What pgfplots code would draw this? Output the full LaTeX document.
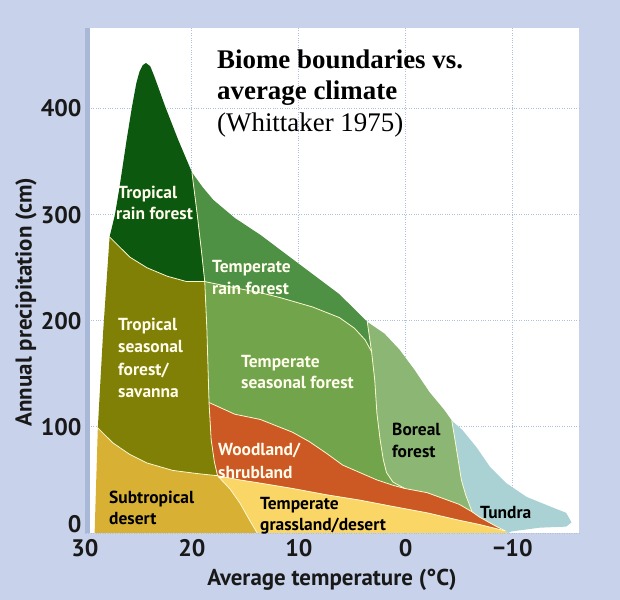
\documentclass[border=0pt]{standalone}
\usepackage{pgfplots}
\pgfplotsset{compat=1.18}
\usepackage{fontspec}
\setmainfont{Liberation Serif}
\setsansfont{PT Sans}
\definecolor{bg}{RGB}{200,210,234}
\definecolor{strip}{RGB}{168,184,214}
\definecolor{trf}{RGB}{12,88,14}
\definecolor{temprf}{RGB}{78,144,68}
\definecolor{sav}{RGB}{128,128,6}
\definecolor{tsf}{RGB}{114,164,76}
\definecolor{bor}{RGB}{140,182,116}
\definecolor{wood}{RGB}{204,88,36}
\definecolor{des}{RGB}{216,176,52}
\definecolor{grass}{RGB}{250,214,102}
\definecolor{tun}{RGB}{170,210,212}
\definecolor{bnd}{RGB}{250,248,205}
\definecolor{gridc}{RGB}{175,192,222}
\definecolor{lbl}{RGB}{255,252,235}
\definecolor{tk}{RGB}{25,25,25}
\begin{document}
\begin{tikzpicture}
\fill[bg] (0,0) rectangle (620bp,600bp);
\begin{axis}[
  at={(85bp,67bp)}, anchor=south west, scale only axis,
  width=494bp, height=505bp,
  x dir=reverse, xmin=-16.2, xmax=30, ymin=0, ymax=476,
  axis background/.style={fill=white},
  axis line style={draw=none},
  major tick length=0pt,
  xtick={30,20,10,0,-10}, xticklabels={30,20,10,0,−10},
  xticklabel style={yshift=-3bp},
  ytick={100,200,300,400},
  extra y ticks={0},
  extra y tick style={yticklabel style={yshift=9bp}},
  grid=major, major grid style={gridc, dotted, line width=0.9bp},
  tick label style={font=\fontsize{24}{24}\selectfont\sffamily\bfseries, text=tk},
  /pgf/number format/assume math mode=true,
]
% Subtropical desert
\addplot[fill=des, draw=none] coordinates {
 (29.1,0) (28.8,99) (27.4,85) (25.8,74) (24.2,66) (21.8,59) (19.5,56) (17.6,54)
 (16.4,41) (15.5,28) (14.6,12) (13.9,0)} --cycle;
% Tropical seasonal forest / savanna
\addplot[fill=sav, draw=none] coordinates {
 (28.8,99) (28.3,190) (27.7,279) (25.8,260) (24.2,250) (22.3,242) (20.5,237) (18.8,237)
 (18.6,192) (18.4,123) (18.2,88) (17.9,67) (17.6,54)
 (19.5,56) (21.8,59) (24.2,66) (25.8,74) (27.4,85)} --cycle;
% Tropical rain forest
\addplot[fill=trf, draw=none] coordinates {
 (27.7,279) (27.2,300) (26.8,324) (26.1,371) (25.6,402) (25.2,424) (24.9,435) (24.6,441) (24.3,443) (23.9,440)
 (23.5,430) (22.5,402) (21.3,371) (20.0,340)
 (19.5,300) (19.1,265) (18.8,237)
 (20.5,237) (22.3,242) (24.2,250) (25.8,260)} --cycle;
% Temperate rain forest
\addplot[fill=temprf, draw=none] coordinates {
 (20.0,340) (19.0,326) (18.0,314) (16.0,297) (13.6,281) (9.9,253) (6.2,225) (3.6,199)
 (3.4,185) (3.2,171)
 (3.8,182) (4.8,193) (6.2,203) (8.7,213) (11.8,222) (13.4,226) (16.4,232) (18.8,237)
 (19.1,265) (19.5,300)} --cycle;
% Temperate seasonal forest
\addplot[fill=tsf, draw=none] coordinates {
 (18.8,237) (16.4,232) (13.4,226) (11.8,222) (8.7,213) (6.2,203) (4.8,193) (3.8,182) (3.2,171)
 (2.9,144) (2.7,113) (2.4,88) (2.1,69) (1.8,57) (1.2,48) (0.1,42)
 (1.2,45) (2.7,50) (4.3,57) (5.9,64) (7.4,75) (9.0,86) (10.6,95) (13.6,107) (16.0,112) (18.4,123)
 (18.6,192)} --cycle;
% Boreal forest
\addplot[fill=bor, draw=none] coordinates {
 (3.6,199) (2.0,188) (0.6,173) (-0.8,154) (-2.2,133) (-3.6,116) (-4.3,106)
 (-4.6,88) (-4.9,69) (-5.2,50) (-5.6,36) (-6.2,20)
 (-5.0,27) (-2.0,38) (0.1,42)
 (1.2,48) (1.8,57) (2.1,69) (2.4,88) (2.7,113) (2.9,144) (3.2,171)
 (3.4,185)} --cycle;
% Woodland / shrubland
\addplot[fill=wood, draw=none] coordinates {
 (18.4,123) (16.0,112) (13.6,107) (10.6,95) (9.0,86) (7.4,75) (5.9,64) (4.3,57) (2.7,50)
 (1.2,45) (0.1,42) (-2.0,38) (-5.0,27) (-6.2,20) (-6.9,15) (-8.5,6) (-9.3,2)
 (-6.9,8) (-5.0,12) (-2.0,19) (1.2,25) (4.3,31) (7.4,36) (10.6,42) (13.6,47) (15.5,50) (17.6,54)
 (17.9,67) (18.2,88)} --cycle;
% Temperate grassland / desert
\addplot[fill=grass, draw=none] coordinates {
 (17.6,54) (16.4,41) (15.5,28) (14.6,12) (13.9,0) (-9.6,0) (-9.3,2)
 (-6.9,8) (-5.0,12) (-2.0,19) (1.2,25) (4.3,31) (7.4,36) (10.6,42) (13.6,47) (15.5,50)} --cycle;
% Tundra
\addplot[fill=tun, draw=none] coordinates {
 (-4.3,106) (-5.3,97) (-6.6,81) (-7.9,62) (-9.4,47) (-11.3,34) (-13.5,25) (-15.0,19)
 (-15.5,10) (-15.0,6) (-12.5,5) (-9.9,1.5) (-9.6,0) (-9.3,2) (-8.5,6) (-6.9,15) (-6.2,20)
 (-5.6,36) (-5.2,50) (-4.9,69) (-4.6,88)} --cycle;
% boundary lines
\addplot[bnd, line width=0.8bp, no marks] coordinates {(28.8,99) (27.4,85) (25.8,74) (24.2,66) (21.8,59) (19.5,56) (17.6,54)};
\addplot[bnd, line width=0.8bp, no marks] coordinates {(17.6,54) (16.4,41) (15.5,28) (14.6,12) (13.9,0)};
\addplot[bnd, line width=0.8bp, no marks] coordinates {(27.7,279) (25.8,260) (24.2,250) (22.3,242) (20.5,237) (18.8,237)};
\addplot[bnd, line width=0.8bp, no marks] coordinates {(20.0,340) (19.5,300) (19.1,265) (18.8,237) (18.6,192) (18.4,123) (18.2,88) (17.9,67) (17.6,54)};
\addplot[bnd, line width=0.8bp, no marks] coordinates {(18.8,237) (16.4,232) (13.4,226) (11.8,222) (8.7,213) (6.2,203) (4.8,193) (3.8,182) (3.2,171)};
\addplot[bnd, line width=0.8bp, no marks] coordinates {(3.6,199) (3.4,185) (3.2,171) (2.9,144) (2.7,113) (2.4,88) (2.1,69) (1.8,57) (1.2,48) (0.1,42)};
\addplot[bnd, line width=0.8bp, no marks] coordinates {(18.4,123) (16.0,112) (13.6,107) (10.6,95) (9.0,86) (7.4,75) (5.9,64) (4.3,57) (2.7,50) (1.2,45) (0.1,42) (-2.0,38) (-5.0,27) (-6.2,20) (-6.9,15) (-8.5,6) (-9.3,2)};
\addplot[bnd, line width=0.8bp, no marks] coordinates {(17.6,54) (15.5,50) (13.6,47) (10.6,42) (7.4,36) (4.3,31) (1.2,25) (-2.0,19) (-5.0,12) (-6.9,8) (-9.3,2)};
\addplot[bnd, line width=0.8bp, no marks] coordinates {(-4.3,106) (-4.6,88) (-4.9,69) (-5.2,50) (-5.6,36) (-6.2,20)};
\end{axis}
\fill[strip] (85bp,67bp) rectangle (90bp,572bp);
% title
\node[anchor=base west, inner sep=0, font=\fontsize{27}{31}\selectfont\bfseries] at (217bp,531bp) {Biome boundaries vs.};
\node[anchor=base west, inner sep=0, font=\fontsize{27}{31}\selectfont\bfseries] at (217bp,500bp) {average climate};
\node[anchor=base west, inner sep=0, font=\fontsize{27}{31}\selectfont] at (217bp,468bp) {(Whittaker 1975)};
% axis labels
\node[text=tk, font=\fontsize{23}{23}\selectfont\sffamily\bfseries] at (332bp,20bp) {Average temperature (°C)};
\node[text=tk, rotate=90, font=\fontsize{23}{23}\selectfont\sffamily\bfseries] at (26bp,298bp) {Annual precipitation (cm)};
% region labels
\begin{scope}[every node/.style={anchor=base west, inner sep=0, font=\fontsize{17.5}{17.5}\selectfont\sffamily\bfseries}]
\node[lbl] at (118bp,401bp) {Tropical};
\node[lbl] at (116bp,380bp) {rain forest};
\node[lbl] at (212bp,327bp) {Temperate};
\node[lbl] at (212bp,305bp) {rain forest};
\node[lbl] at (118bp,269bp) {Tropical};
\node[lbl] at (118bp,247bp) {seasonal};
\node[lbl] at (118bp,224bp) {forest/};
\node[lbl] at (118bp,202bp) {savanna};
\node[lbl] at (241bp,232bp) {Temperate};
\node[lbl] at (241bp,211bp) {seasonal forest};
\node[lbl] at (218bp,144bp) {Woodland/};
\node[lbl] at (218bp,121bp) {shrubland};
\node[black] at (392bp,164bp) {Boreal};
\node[black] at (392bp,142bp) {forest};
\node[black] at (109bp,96bp) {Subtropical};
\node[black] at (109bp,75bp) {desert};
\node[black] at (260bp,90bp) {Temperate};
\node[black] at (260bp,69bp) {grassland/desert};
\node[black] at (480bp,81bp) {Tundra};
\end{scope}
\pgfresetboundingbox
\path (0,0) rectangle (620bp,600bp);
\end{tikzpicture}
\end{document}
